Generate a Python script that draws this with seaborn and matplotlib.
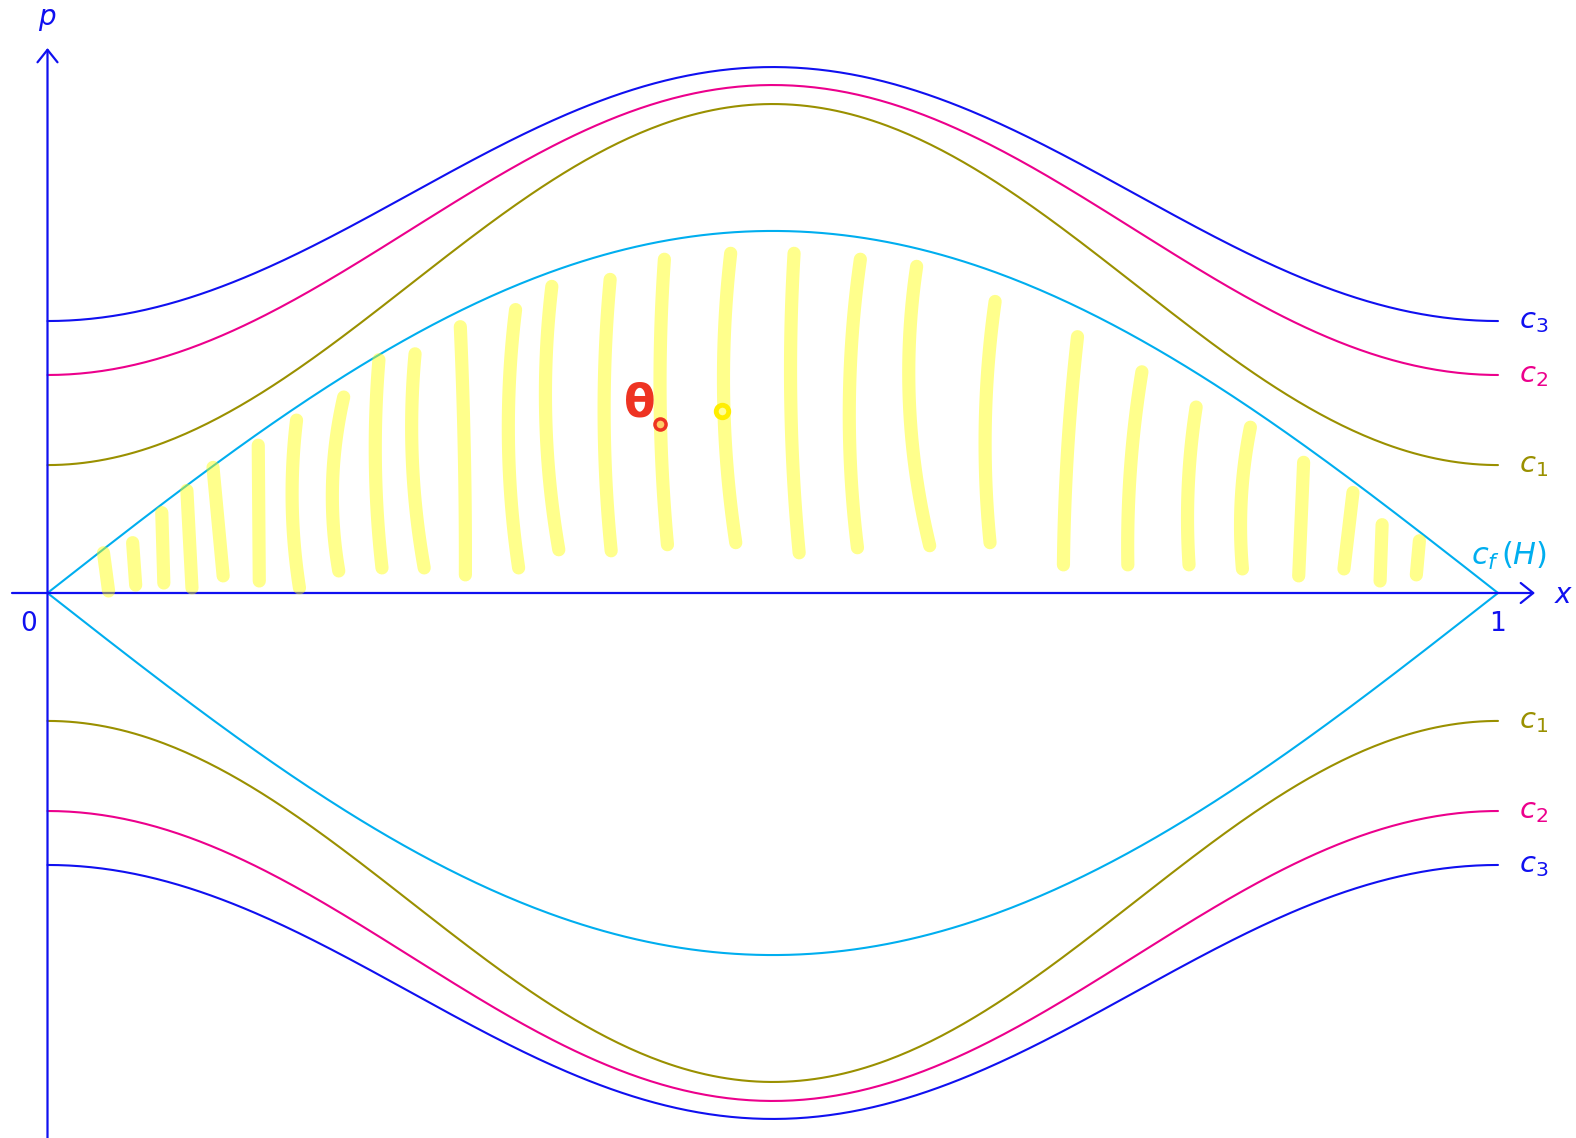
import numpy as np
import pandas as pd
import matplotlib
matplotlib.use("Agg")
import matplotlib.pyplot as plt
import seaborn as sns

sns.set_theme(style="white")
plt.rcParams["font.family"] = ["DejaVu Sans"]
plt.rcParams["mathtext.fontset"] = "dejavusans"

# Level curves: momentum at the walls (x = 0, 1) and at the centre (x = 1/2)
level_names = ["c_1", "c_2", "c_3"]
level_p_wall = [0.0882, 0.1503, 0.1875]
level_p_mid = [0.3371, 0.3502, 0.3626]
level_colors = ["#9a9000", "#ec008c", "#1010f0"]

# Separatrix c_f(H): amplitude of p = A sin(pi x)
sep_amp = 0.2496
sep_color = "#00aeef"
axis_color = "#1010f0"

# Hatching strokes inside the upper lobe: top/bottom x, top/bottom p, bow
stroke_x_top = [0.0386, 0.0587, 0.0788, 0.0961, 0.1141, 0.1453, 0.1717, 0.2042,
                0.2285, 0.2534, 0.2846, 0.3227, 0.3477, 0.3879, 0.4253, 0.4710,
                0.5147, 0.5604, 0.5992, 0.6533, 0.7101, 0.7545, 0.7919, 0.8293,
                0.8660, 0.9000, 0.9201, 0.9458]
stroke_x_bot = [0.0421, 0.0608, 0.0802, 0.0996, 0.1211, 0.1460, 0.1737, 0.2008,
                0.2306, 0.2597, 0.2881, 0.3248, 0.3525, 0.3886, 0.4274, 0.4745,
                0.5182, 0.5584, 0.6082, 0.6498, 0.7004, 0.7448, 0.7870, 0.8238,
                0.8626, 0.8938, 0.9187, 0.9437]
stroke_p_top = [0.0277, 0.0347, 0.0554, 0.0707, 0.0866, 0.1019, 0.1192, 0.1351,
                0.1608, 0.1649, 0.1836, 0.1954, 0.2114, 0.2162, 0.2301, 0.2342,
                0.2342, 0.2301, 0.2252, 0.2010, 0.1767, 0.1525, 0.1282, 0.1143,
                0.0901, 0.0693, 0.0471, 0.0360]
stroke_p_bot = [0.0014, 0.0055, 0.0069, 0.0035, 0.0118, 0.0083, 0.0035, 0.0152,
                0.0173, 0.0173, 0.0125, 0.0173, 0.0298, 0.0291, 0.0333, 0.0347,
                0.0277, 0.0312, 0.0326, 0.0347, 0.0194, 0.0194, 0.0194, 0.0166,
                0.0118, 0.0166, 0.0083, 0.0125]
stroke_bow = [0.0, 0.0, 0.0, 0.0, 0.0, 0.0, -0.004, -0.006,
              -0.0035, -0.005, 0.001, -0.006, -0.0066, -0.0045, -0.004, -0.0066,
              -0.004, -0.0066, -0.0094, -0.005, -0.002, -0.003, -0.003, -0.0035,
              0.0, 0.0, 0.0, 0.0]

# Marked point D_0 and a second highlighted point
d0_xy = (0.4085, 0.1300)
d0_sub_xy = (0.4222, 0.1165)
dot_xy = (0.4650, 0.1255)

W, H = 1576, 1138
fig = plt.figure(figsize=(W / 100, H / 100), dpi=100)
ax = fig.add_axes([0, 0, 1, 1])
unit = 1450.5
ax.set_xlim(-47.5 / unit, (W - 47.5) / unit)
ax.set_ylim(-(H - 593) / unit, 593 / unit)
ax.set_axis_off()

xs = np.linspace(0, 1, 400)
frames = []
for name, p0, pm, col in zip(level_names, level_p_wall, level_p_mid, level_colors):
    prof = p0 + (pm - p0) * np.sin(np.pi * xs) ** 2
    for sgn in (1, -1):
        frames.append(pd.DataFrame({"x": xs, "p": sgn * prof,
                                    "curve": f"{name}{'+' if sgn > 0 else '-'}"}))
sep = np.abs(sep_amp * np.sin(np.pi * xs))
frames.append(pd.DataFrame({"x": xs, "p": sep, "curve": "cf+"}))
frames.append(pd.DataFrame({"x": xs, "p": -sep, "curve": "cf-"}))
df = pd.concat(frames, ignore_index=True)

palette = {}
for name, col in zip(level_names, level_colors):
    palette[name + "+"] = col
    palette[name + "-"] = col
palette["cf+"] = sep_color
palette["cf-"] = sep_color

sns.lineplot(data=df, x="x", y="p", hue="curve", palette=palette, sort=False,
             estimator=None, linewidth=1.5, legend=False, ax=ax)

# Axes with arrow heads
arrow_kw = dict(arrowstyle="->,head_length=0.45,head_width=0.36", lw=1.6,
                color=axis_color, mutation_scale=20, shrinkA=0, shrinkB=0)
ax.annotate("", xy=(1535 / unit - 47.5 / unit, 0), xytext=(12 / unit - 47.5 / unit, 0),
            arrowprops=arrow_kw, zorder=4)
ax.annotate("", xy=(0, (593 - 48) / unit), xytext=(0, -(H - 593 + 5) / unit),
            arrowprops=arrow_kw, zorder=4)

fs = 21
ax.text(0, (593 - 19) / unit, r"$p$", color=axis_color, fontsize=20, ha="center", va="center")
ax.text((1564 - 47.5) / unit, -2 / unit, r"$x$", color=axis_color, fontsize=20,
        ha="center", va="center")
ax.text((29 - 47.5) / unit, -31 / unit, "0", color=axis_color, fontsize=19,
        ha="center", va="center")
ax.text(1.0, -31 / unit, "1", color=axis_color, fontsize=19, ha="center", va="center")

lab_x = (1519 - 47.5) / unit
for name, p0, col in zip(level_names, level_p_wall, level_colors):
    for sgn in (1, -1):
        ax.text(lab_x, sgn * p0, rf"${name}$", color=col, fontsize=fs,
                ha="left", va="center")
ax.text((1509 - 47.5) / unit, (593 - 556) / unit, r"$c_f\,(H)$", color=sep_color,
        fontsize=22, ha="center", va="center")

# Highlighter strokes
t = np.linspace(0, 1, 30)
for xt, xb, pt, pb, bw in zip(stroke_x_top, stroke_x_bot, stroke_p_top,
                              stroke_p_bot, stroke_bow):
    sx = (1 - t) * xt + t * xb + 4 * bw * t * (1 - t)
    sp = (1 - t) * pt + t * pb
    ax.plot(sx, sp, color="#ffff00", alpha=0.45, lw=9.5, solid_capstyle="round",
            solid_joinstyle="round", zorder=5)

ax.text(d0_xy[0], d0_xy[1], "θ", color="#ee3322", fontsize=33, fontweight="bold",
        family=["Liberation Sans Narrow", "DejaVu Sans"],
        ha="center", va="center", zorder=6)
ax.plot([d0_sub_xy[0]], [d0_sub_xy[1]], marker="o", ms=8, mfc="#ffcc66",
        mec="#ee3322", mew=2.5, zorder=6)
ax.plot([dot_xy[0]], [dot_xy[1]], marker="o", ms=9, mfc="#ffff99",
        mec="#ffee00", mew=3.5, zorder=6)

fig.savefig("out.png", dpi=100)
